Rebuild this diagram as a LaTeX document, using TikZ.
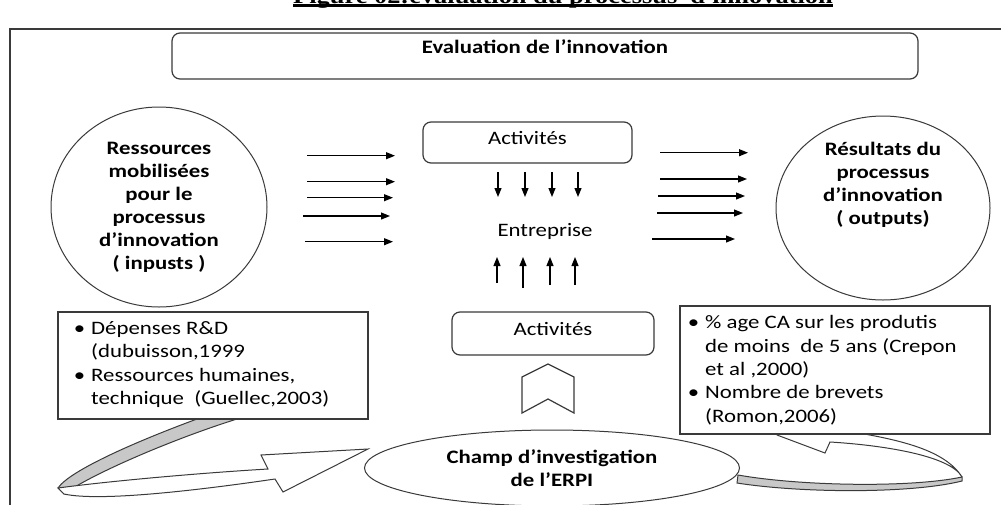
\documentclass[tikz,border=0pt]{standalone}
\usepackage{fontspec}
\setmainfont{Carlito}[FakeStretch=1.2]
\newfontfamily\titlefont{Liberation Serif}[FakeStretch=1.2]
\usetikzlibrary{arrows.meta,shapes.geometric}
\definecolor{edge}{HTML}{3A3A3A}
\definecolor{band}{HTML}{C8C8C8}
\newcommand\itemdot{\makebox[0pt][r]{\textbullet\hspace{6pt}}}

\begin{document}
\begin{tikzpicture}[x=1pt,y=-1pt,
  txt/.style={font=\fontsize{19}{23.3}\selectfont, inner sep=0},
  bold/.style={font=\bfseries\fontsize{19}{23}\selectfont, inner sep=0, align=center},
  rbox/.style={draw=edge, line width=1.2pt, rounded corners=8pt, fill=white, inner sep=0, font=\fontsize{19}{23}\selectfont},
  sbox/.style={draw=edge, line width=1.3pt, fill=white, inner sep=0},
  oval/.style={draw=edge, line width=1pt, ellipse, fill=white, inner sep=0},
  flow/.style={-{Triangle[length=9pt,width=7pt]}, line width=1.1pt}]
\useasboundingbox (0,0) rectangle (1001,504);

% title and frame
\node[font=\titlefont\bfseries\fontsize{22}{26}\selectfont, anchor=base, inner sep=0] (fig) at (563,3) {Figure 02:évaluation du processus\ \ d'innovation};
\draw[line width=3pt] ([yshift=-2.5pt]fig.base west) -- ([yshift=-2.5pt]fig.base east);
\draw[line width=2pt, draw=edge] (1010,29) -- (9.5,29) -- (9.5,515);

\node[rbox, minimum width=746, text height=20.5pt, text depth=25.5pt, font=\bfseries\fontsize{19}{23}\selectfont] (eval) at (545,56) {Evaluation de l'innovation};

% inputs / outputs
\node[oval, minimum width=216, minimum height=200, bold] (inputs) at (159,207) {Ressources\\mobilisées\\pour le\\processus\\d'innovation\\( inpusts )};
\node[oval, minimum width=214, minimum height=184] (outputs) at (883,208) {};
\node[bold] (outtxt) at (883,185) {Résultats du\\processus\\d'innovation\\( outputs)};

\node[rbox, minimum width=209, text height=22.5pt, text depth=18.5pt] (act1) at (527.5,142.5) {Activités};
\node[txt] (firm) at (545,231) {Entreprise};

\foreach \y/\a/\b [count=\i] in {155.7/307/395, 181.7/307/395, 197.7/307/393, 216/303/390, 241.7/305/393} {
  \coordinate (in\i a) at (\a,\y);
  \coordinate (in\i b) at (\b,\y);
  \draw[flow] (in\i a) -- (in\i b);
}
\foreach \y/\a/\b [count=\i] in {152.7/660/748, 179/660/747, 196/658/745, 213/657/743, 239/652/735} {
  \coordinate (out\i a) at (\a,\y);
  \coordinate (out\i b) at (\b,\y);
  \draw[flow] (out\i a) -- (out\i b);
}
\foreach \x [count=\i] in {498,525,552,578} {
  \coordinate (dn\i a) at (\x,172);
  \coordinate (dn\i b) at (\x,197);
  \draw[flow] (dn\i a) -- (dn\i b);
}
\foreach \x/\y [count=\i] in {497/283,523/288,550/285,575/285} {
  \coordinate (up\i a) at (\x,\y);
  \coordinate (up\i b) at (\x,257);
  \draw[flow] (up\i a) -- (up\i b);
}

% curved arrows
\draw[draw=edge, fill=band, line width=1pt] (197,412) -- (197,419) .. controls (140,440) and (70,470) .. (58,488) -- (64,494) .. controls (90,475) and (170,440) .. (237,419) -- (237,412);
\draw[draw=edge, fill=white, line width=1pt] (58,488) .. controls (110,481) and (200,473) .. (268,469) -- (261,455) -- (368,449) -- (283,492) -- (275,479) .. controls (200,490) and (100,502) .. (64,494) -- cycle;
\draw[draw=edge, fill=band, line width=1pt] (738,475) .. controls (800,486) and (910,488) .. (962,477) -- (962,481) .. controls (910,494) and (800,493) .. (737,483) -- cycle;
\draw[draw=edge, fill=white, line width=1pt] (777,425) -- (777,435) -- (825,453) -- (830,442) .. controls (880,445) and (950,455) .. (962,477) .. controls (945,450) and (900,440) .. (853,432) -- (853,425) -- cycle;

% sources
\node[sbox, minimum width=310, minimum height=107] (inbox) at (213,365.5) {};
\node[txt, anchor=north west, align=left] (inlist) at (91,321.5) {\itemdot Dépenses R\&D\\(dubuisson,1999\\\itemdot Ressources humaines,\\technique\ \ (Guellec,2003)};
\node[sbox, minimum width=310, minimum height=128] (outbox) at (835,370) {};
\node[txt, anchor=north west, align=left] (outlist) at (705,315.5) {\itemdot\% age CA sur les produtis\\de moins\ \ de 5 ans (Crepon\\et al ,2000)\\\itemdot Nombre de brevets\\(Romon,2006)};

\node[rbox, minimum width=202, text height=23.5pt, text depth=19.5pt] (act2) at (553,333.5) {Activités};
\draw[draw=edge, line width=1.2pt, fill=white] (522,377) -- (548,364) -- (574,377) -- (574,413) -- (548,399) -- (522,413) -- cycle;
\node[oval, minimum width=375, minimum height=76, bold] (erpi) at (552,468) {Champ d'investigation\\de l'ERPI};
\end{tikzpicture}
\end{document}
